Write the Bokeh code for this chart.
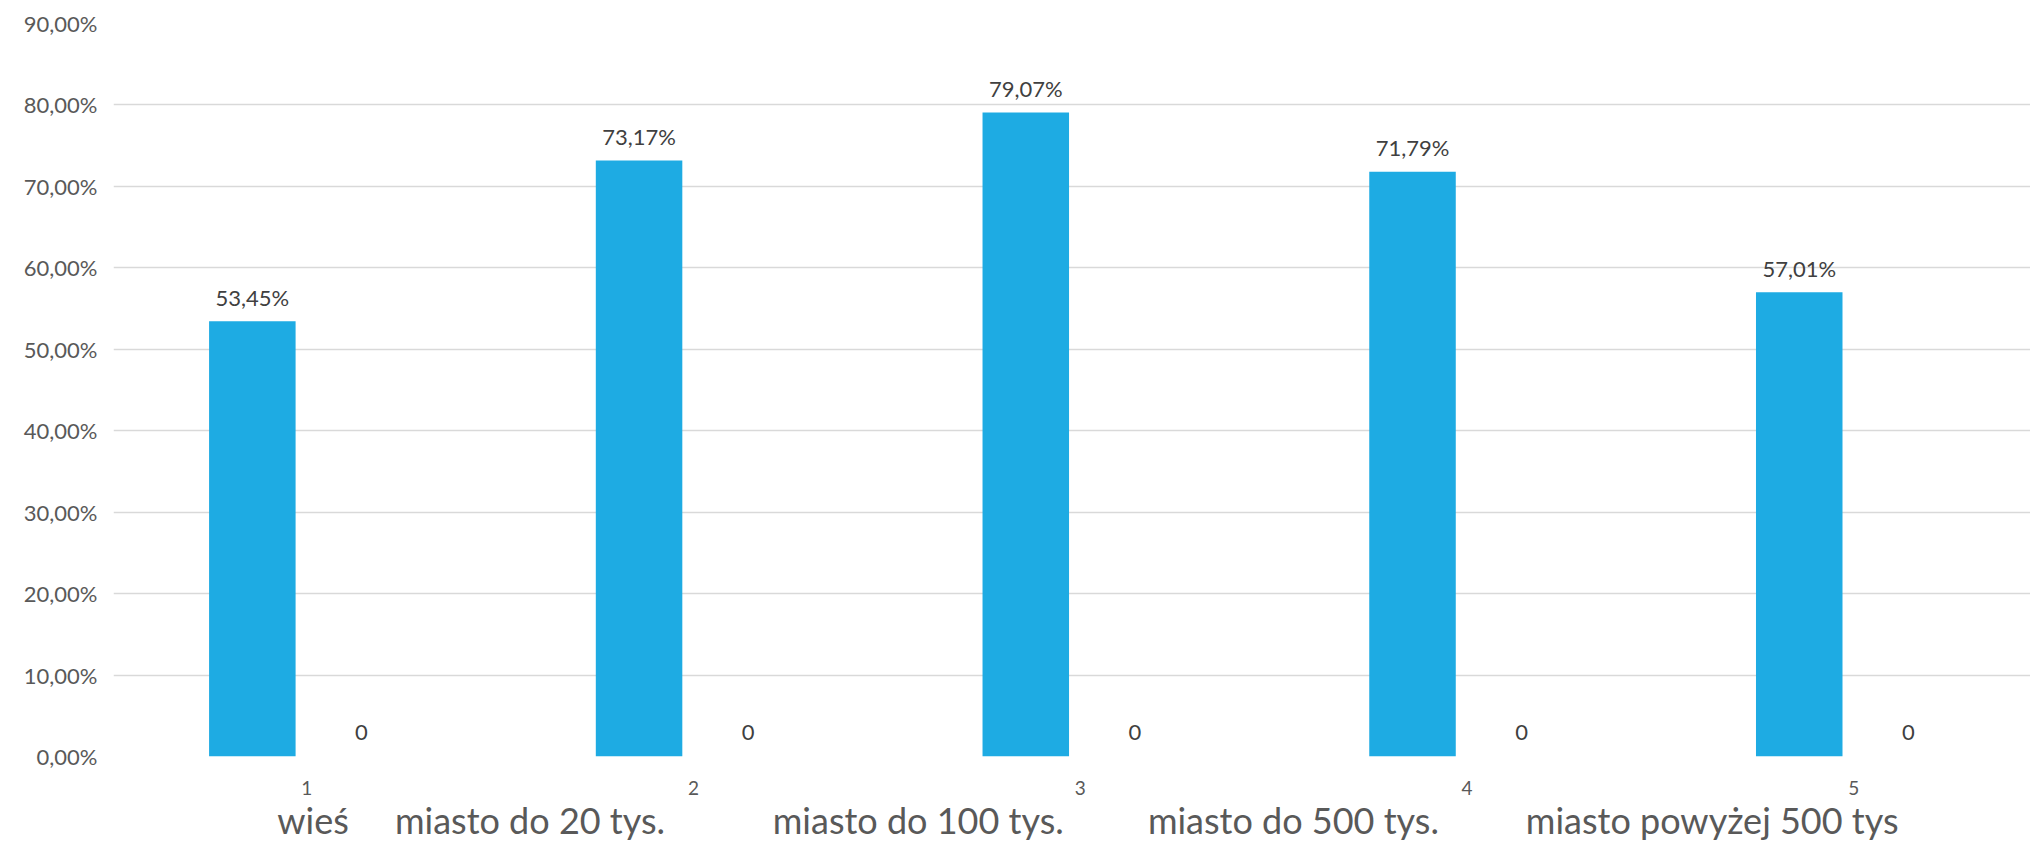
from bokeh.plotting import figure
from bokeh.models import Range1d, FixedTicker, LinearAxis, CustomJSTickFormatter, ColumnDataSource
from bokeh.core.properties import value
from bokeh.embed import file_html
from bokeh.resources import INLINE

# ---- data ----
categories = [1, 2, 3, 4, 5]
tick_labels = ["1", "2", "3", "4", "5"]
group_names = ["wieś", "miasto do 20 tys.", "miasto do 100 tys.",
               "miasto do 500 tys.", "miasto powyżej 500 tys"]
series_a = [53.45, 73.17, 79.07, 71.79, 57.01]
series_b = [0, 0, 0, 0, 0]
y_ticks = [0, 10, 20, 30, 40, 50, 60, 70, 80, 90]

# ---- layout / style constants ----
group_label_pos = [1.016, 1.577, 2.581, 3.551, 4.634]
BAR_OFF = 0.141
BAR_W = 0.2237
FONT = "Lato"
BLUE = "#1EABE3"
GRID = "#D9D9D9"
AXIS_TXT = "#595959"
LBL_TXT = "#404040"

p = figure(frame_width=1917, frame_height=733,
           x_range=Range1d(0.5, 5.457), y_range=Range1d(0, 90),
           output_backend="svg", toolbar_location=None,
           min_border_left=113, min_border_right=0,
           min_border_top=23, min_border_bottom=0,
           background_fill_color="white", border_fill_color="white")
p.outline_line_color = None
p.xgrid.visible = False
p.ygrid.grid_line_color = GRID
p.ygrid.grid_line_width = 1.5

# y axis
p.yaxis.ticker = FixedTicker(ticks=y_ticks)
p.yaxis.formatter = CustomJSTickFormatter(
    code="return tick.toFixed(2).replace('.', ',') + '%';")
p.yaxis.axis_line_color = None
p.yaxis.major_tick_line_color = None
p.yaxis.minor_tick_line_color = None
p.yaxis.major_tick_out = 0
p.yaxis.major_tick_in = 0
p.yaxis.major_label_standoff = 16
p.yaxis.major_label_text_font = FONT
p.yaxis.major_label_text_font_size = "22px"
p.yaxis.major_label_text_color = AXIS_TXT

# x axis (category numbers)
p.xaxis.ticker = FixedTicker(ticks=categories)
p.xaxis.major_label_overrides = {c: t for c, t in zip(categories, tick_labels)}
p.xaxis.axis_line_color = None
p.xaxis.major_tick_line_color = None
p.xaxis.minor_tick_line_color = None
p.xaxis.major_tick_out = 0
p.xaxis.major_label_standoff = 24
p.xaxis.major_label_text_font = FONT
p.xaxis.major_label_text_font_size = "19px"
p.xaxis.major_label_text_color = AXIS_TXT

# second axis with group names
ax2 = LinearAxis(ticker=FixedTicker(ticks=group_label_pos),
                 formatter=CustomJSTickFormatter(
                     args=dict(names=group_names, pos=group_label_pos),
                     code="""
let best = 0;
for (let k = 0; k < pos.length; k++) {
  if (Math.abs(pos[k] - tick) < Math.abs(pos[best] - tick)) best = k;
}
return names[best];"""))
ax2.axis_line_color = None
ax2.major_tick_line_color = None
ax2.minor_tick_line_color = None
ax2.major_tick_out = 0
ax2.major_tick_in = 0
ax2.major_label_standoff = 0
ax2.major_label_text_font = FONT
ax2.major_label_text_font_size = "36px"
ax2.major_label_text_color = AXIS_TXT
p.add_layout(ax2, "below")

src = ColumnDataSource(dict(
    xa=[c - BAR_OFF for c in categories],
    xb=[c + BAR_OFF for c in categories],
    a=series_a, b=series_b,
    la=[f"{v:.2f}".replace(".", ",") + "%" for v in series_a],
    lb=[f"{v:g}" for v in series_b],
))

p.vbar(x="xa", top="a", bottom=0, width=BAR_W, source=src,
       fill_color=BLUE, line_color=None)
p.vbar(x="xb", top="b", bottom=0, width=BAR_W, source=src,
       fill_color="#ED7D31", line_color=None)

p.text(x="xa", y="a", text="la", source=src, y_offset=-24,
       text_align="center", text_baseline="middle",
       text_font=value(FONT), text_font_size="22px", text_color=LBL_TXT)
p.text(x="xb", y="b", text="lb", source=src, y_offset=-24,
       text_align="center", text_baseline="middle",
       text_font=value(FONT), text_font_size="22px", text_color=LBL_TXT)

open("out.html", "w").write(file_html(p, INLINE))
